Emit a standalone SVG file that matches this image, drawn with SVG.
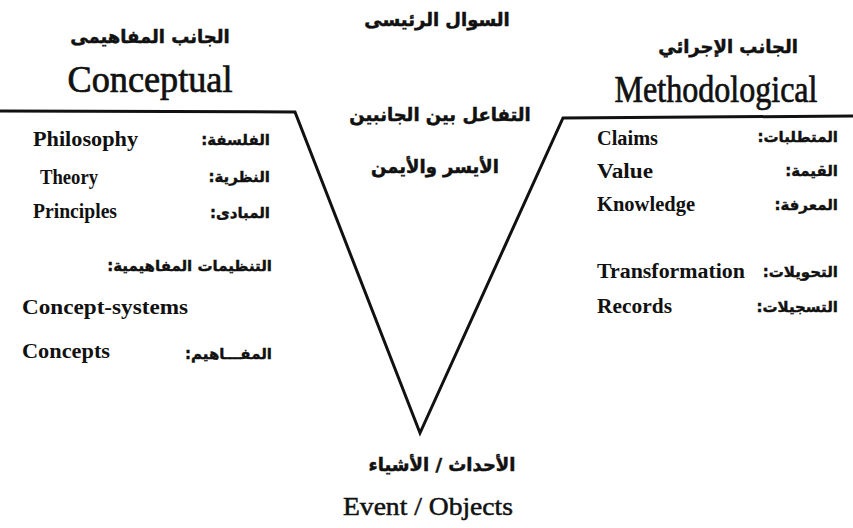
<svg xmlns="http://www.w3.org/2000/svg" width="853" height="528" viewBox="0 0 853 528">
<style>
.bg{fill:#ffffff}
.en{font-family:"Liberation Serif","Times New Roman",serif;fill:#111;font-weight:bold;font-size:20px}
.title{font-family:"Liberation Serif","Times New Roman",serif;fill:#111;font-size:37px;stroke:#111;stroke-width:0.7}
.ev{font-family:"Liberation Serif","Times New Roman",serif;fill:#111;font-size:25px;stroke:#111;stroke-width:0.5}
.ar{font-family:"DejaVu Sans","Noto Sans",sans-serif;font-weight:bold;fill:#111;font-size:15px;stroke:#111;stroke-width:0.4;direction:rtl;text-anchor:start}
.arh{font-family:"DejaVu Sans","Noto Sans",sans-serif;font-weight:bold;fill:#111;font-size:18px;stroke:#111;stroke-width:0.5;direction:rtl;text-anchor:middle}
.line{fill:none;stroke:#111;stroke-width:3;stroke-linejoin:miter}
</style>
<rect class="bg" x="0" y="0" width="853" height="528"/>

<g id="connectors">
  <polyline class="line" points="0,111 295,112 420,433 563,118 853,116"/>
</g>

<g id="main-question">
  <text class="arh" x="437" y="26">السوال الرئيسى</text>
</g>

<g id="conceptual-side">
  <text class="arh" x="150" y="43">الجانب المفاهيمى</text>
  <text class="title" x="150" y="92" text-anchor="middle" textLength="165" lengthAdjust="spacingAndGlyphs">Conceptual</text>
</g>

<g id="methodological-side">
  <text class="arh" x="728" y="53">الجانب الإجرائي</text>
  <text class="title" x="716" y="102" text-anchor="middle" textLength="203" lengthAdjust="spacingAndGlyphs">Methodological</text>
</g>

<g id="interaction">
  <text class="arh" x="440" y="121">التفاعل بين الجانبين</text>
  <text class="arh" x="435" y="173">الأيسر والأيمن</text>
</g>

<g id="left-philosophy">
  <text class="en" x="33" y="146" textLength="105" lengthAdjust="spacingAndGlyphs">Philosophy</text>
  <text class="ar" x="270" y="145">الفلسفة:</text>
</g>
<g id="left-theory">
  <text class="en" x="40" y="184" textLength="58" lengthAdjust="spacingAndGlyphs">Theory</text>
  <text class="ar" x="270" y="182">النظرية:</text>
</g>
<g id="left-principles">
  <text class="en" x="33" y="218" textLength="84" lengthAdjust="spacingAndGlyphs">Principles</text>
  <text class="ar" x="270" y="218">المبادى:</text>
</g>
<g id="left-concept-systems">
  <text class="ar" x="272" y="271">التنظيمات المفاهيمية:</text>
  <text class="en" x="22" y="314" textLength="166" lengthAdjust="spacingAndGlyphs">Concept-systems</text>
</g>
<g id="left-concepts">
  <text class="en" x="22" y="358" textLength="88" lengthAdjust="spacingAndGlyphs">Concepts</text>
  <text class="ar" x="272" y="359">المفـــاهيم:</text>
</g>

<g id="right-claims">
  <text class="en" x="597" y="145" textLength="61" lengthAdjust="spacingAndGlyphs">Claims</text>
  <text class="ar" x="838" y="142">المتطلبات:</text>
</g>
<g id="right-value">
  <text class="en" x="597" y="178" textLength="56" lengthAdjust="spacingAndGlyphs">Value</text>
  <text class="ar" x="838" y="176">القيمة:</text>
</g>
<g id="right-knowledge">
  <text class="en" x="597" y="211" textLength="98" lengthAdjust="spacingAndGlyphs">Knowledge</text>
  <text class="ar" x="838" y="210">المعرفة:</text>
</g>
<g id="right-transformation">
  <text class="en" x="597" y="278" textLength="148" lengthAdjust="spacingAndGlyphs">Transformation</text>
  <text class="ar" x="838" y="277">التحويلات:</text>
</g>
<g id="right-records">
  <text class="en" x="597" y="313" textLength="75" lengthAdjust="spacingAndGlyphs">Records</text>
  <text class="ar" x="838" y="312">التسجيلات:</text>
</g>

<g id="events-objects">
  <text class="arh" x="442" y="471">الأحداث / الأشياء</text>
  <text class="ev" x="428" y="515" text-anchor="middle" textLength="170" lengthAdjust="spacingAndGlyphs">Event / Objects</text>
</g>
</svg>
